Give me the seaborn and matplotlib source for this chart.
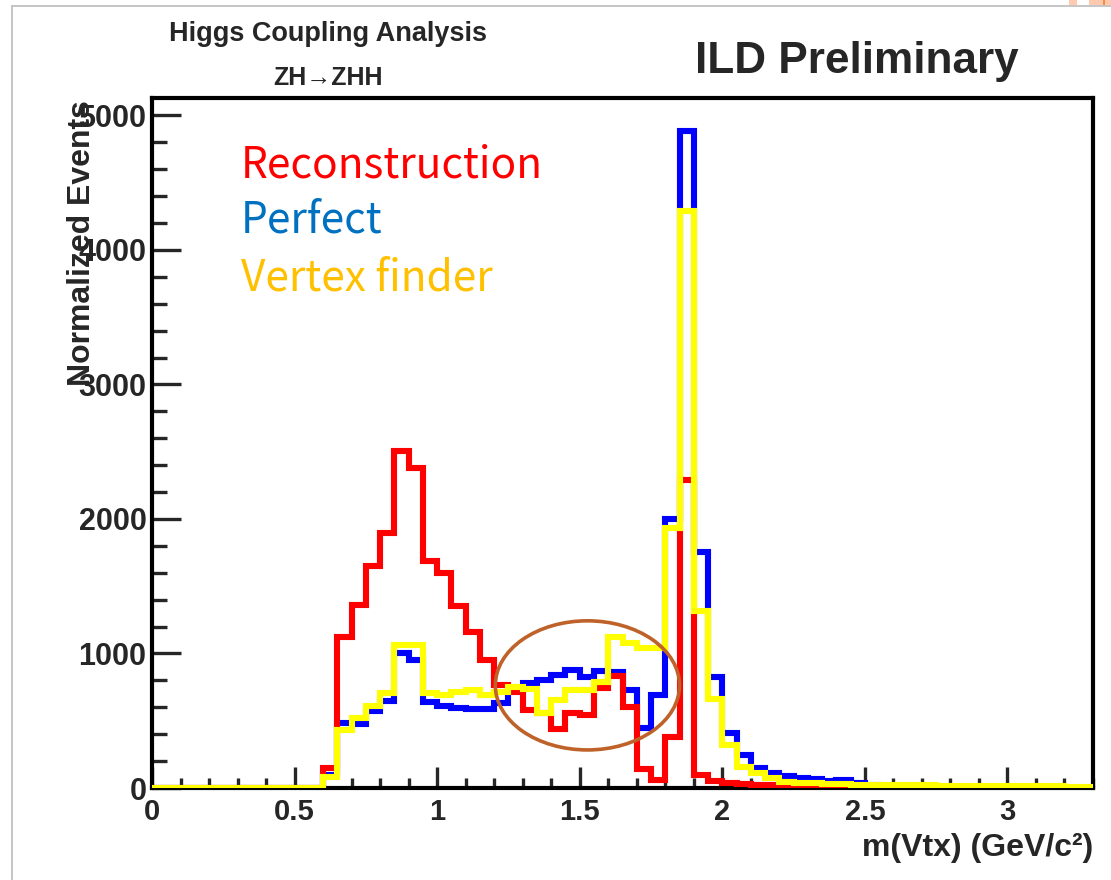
import numpy as np
import pandas as pd
import matplotlib
matplotlib.use("Agg")
import matplotlib.pyplot as plt
import seaborn as sns
from matplotlib.patches import Ellipse, Rectangle
from matplotlib.lines import Line2D
from matplotlib.ticker import MultipleLocator, FuncFormatter

# ---------------- data (bin contents, 0.05 GeV bins from 0 to 3.3) ----------------
bin_width = 0.05
bin_range = (0.0, 3.3)

reconstruction = [0, 0, 0, 0, 0, 0, 0, 0, 0, 0, 0, 0,
                  150, 1120, 1364, 1649, 1897, 2505, 2381, 1687, 1600, 1352, 1158, 950,
                  765, 715, 580, 560, 440, 556, 540, 740, 830, 600, 140, 60,
                  380, 2290, 100, 50, 40, 30, 25, 20, 15,
                  12, 10, 10, 8, 8, 7, 6, 6, 5, 5, 4, 4, 3, 3, 3, 2, 2, 2, 2, 1, 1]

perfect = [0, 0, 0, 0, 0, 0, 0, 0, 0, 0, 0, 0,
           100, 486, 476, 573, 650, 1002, 952, 642, 610, 598, 585, 590,
           630, 740, 780, 804, 841, 878, 823, 873, 860, 729, 444, 692,
           1997, 4885, 1754, 828, 407, 245, 151, 109, 89, 72, 64, 55, 62, 40,
           20, 18, 15, 12, 10, 9, 8, 7, 6, 5, 5, 4, 4, 3, 3, 2]

vertex_finder = [0, 0, 0, 0, 0, 0, 0, 0, 0, 0, 0, 0,
                 80, 432, 521, 610, 705, 1064, 1064, 705, 692, 717, 729, 690,
                 717, 749, 734, 556, 655, 729, 729, 791, 1126, 1081, 1040, 1040,
                 1932, 4287, 1315, 660, 320, 159, 109, 72, 47, 40, 35, 30,
                 28, 26, 25, 24, 22, 20, 20, 18, 18, 16, 15, 15, 14, 13, 12, 12, 11, 10]

series_names = ["Perfect", "Reconstruction", "Vertex finder"]
x_ticks = [0, 0.5, 1, 1.5, 2, 2.5, 3]
y_ticks = [0, 1000, 2000, 3000, 4000, 5000]

# ---------------- style ----------------
sns.set_style("white")
plt.rcParams["font.family"] = ["Liberation Sans", "DejaVu Sans"]

fig = plt.figure(figsize=(11.11, 8.8), dpi=100)
ax = fig.add_axes([152 / 1111, 92 / 880, 941 / 1111, 690 / 880])

n_bins = len(perfect)
centers = bin_range[0] + bin_width * (np.arange(n_bins) + 0.5)
df = pd.DataFrame({"m": np.tile(centers, 3),
                   "w": perfect + reconstruction + vertex_finder,
                   "series": np.repeat(series_names, n_bins)})

colors = {"Perfect": "#0000FF", "Reconstruction": "#FF0000", "Vertex finder": "#FFFF00"}
for z, name in enumerate(series_names):
    sub = df[df["series"] == name]
    sns.histplot(data=sub, x="m", weights="w", binwidth=bin_width, binrange=bin_range,
                 element="step", fill=False, color=colors[name], linewidth=4.4, ax=ax)
    ax.lines[-1].set_zorder(3 + z)
for ln in ax.lines:
    ln.set_solid_joinstyle("miter")
    ln.set_solid_capstyle("butt")

ax.set_xlim(0, 3.3)
ax.set_ylim(0, 5130)
ax.set_xticks(x_ticks)
ax.set_yticks(y_ticks)
ax.xaxis.set_minor_locator(MultipleLocator(0.1))
ax.yaxis.set_minor_locator(MultipleLocator(200))
ax.xaxis.set_major_formatter(FuncFormatter(lambda v, p: f"{v:g}"))
ax.yaxis.set_major_formatter(FuncFormatter(lambda v, p: f"{v:g}"))

ax.tick_params(axis="x", which="major", direction="in", length=15, width=2.4,
               labelsize=21, pad=7, bottom=True, top=False)
ax.tick_params(axis="x", which="minor", direction="in", length=7, width=2.4,
               bottom=True, top=False)
ax.tick_params(axis="y", which="major", direction="in", length=21, width=2.4,
               labelsize=22, pad=4, left=True, right=False)
ax.tick_params(axis="y", which="minor", direction="in", length=11, width=2.4,
               left=True, right=False)
for lab in ax.get_xticklabels() + ax.get_yticklabels():
    lab.set_fontweight("bold")

for sp in ax.spines.values():
    sp.set_visible(True)
    sp.set_color("black")
    sp.set_linewidth(3)
    sp.set_zorder(2)

ax.set_xlabel("m(Vtx) (GeV/c²)", fontsize=23, fontweight="bold")
ax.xaxis.set_label_coords(1.0, (788 - 848) / 690)
ax.xaxis.label.set_ha("right")
ax.xaxis.label.set_va("center")

ax.set_ylabel("Normalized Events", fontsize=23, fontweight="bold")
ylab = ax.yaxis.label
ylab.set_rotation_mode("anchor")
ylab.set_ha("right")
ylab.set_va("center")
ax.yaxis.set_label_coords((82 - 152) / 941, (788 - 100) / 690)

# annotation ellipse
ax.add_patch(Ellipse((1.527, 763), 0.646, 960, fill=False, edgecolor="#BF622A",
                     linewidth=2.6, zorder=8, clip_on=False))

# texts
fig.text(328 / 1111, 1 - 34 / 880, "Higgs Coupling Analysis", ha="center", va="center",
         fontsize=19.5, fontweight="bold")
fig.text(328 / 1111, 1 - 78 / 880, "ZH→ZHH", ha="center", va="center",
         fontsize=18, fontweight="bold")
fig.text(695 / 1111, 1 - 73 / 880, "ILD Preliminary", ha="left", va="baseline",
         fontsize=31.8, fontweight="bold")

leg_font = ["Noto Sans CJK JP", "DejaVu Sans"]
ax.text((241 - 152) / 941, (788 - 177) / 690, "Reconstruction", transform=ax.transAxes,
        ha="left", va="baseline", fontsize=30.5, color="#FF0000", family=leg_font)
ax.text((241 - 152) / 941, (788 - 232) / 690, "Perfect", transform=ax.transAxes,
        ha="left", va="baseline", fontsize=30.5, color="#0070C0", family=leg_font)
ax.text((241 - 152) / 941, (788 - 290) / 690, "Vertex finder", transform=ax.transAxes,
        ha="left", va="baseline", fontsize=30.5, color="#FFC000", family=leg_font)

# slide frame lines and corner decorations
fig.add_artist(Line2D([12 / 1111, 12 / 1111], [0, 1 - 6 / 880], color="#BBBBBB", lw=1.2))
fig.add_artist(Line2D([12 / 1111, 1], [1 - 6 / 880, 1 - 6 / 880], color="#BBBBBB", lw=1.2))
fig.add_artist(Rectangle((1069 / 1111, 1 - 5 / 880), 8 / 1111, 5 / 880,
                         transform=fig.transFigure, color="#FFC9B0", lw=0))
fig.add_artist(Rectangle((1089 / 1111, 1 - 5 / 880), 22 / 1111, 5 / 880,
                         transform=fig.transFigure, color="#FFC9B0", lw=0))
fig.add_artist(Rectangle((1103 / 1111, 1 - 5 / 880), 2 / 1111, 5 / 880,
                         transform=fig.transFigure, color="#FF8A3D", lw=0))

fig.savefig("out.png", dpi=100, facecolor="white")
